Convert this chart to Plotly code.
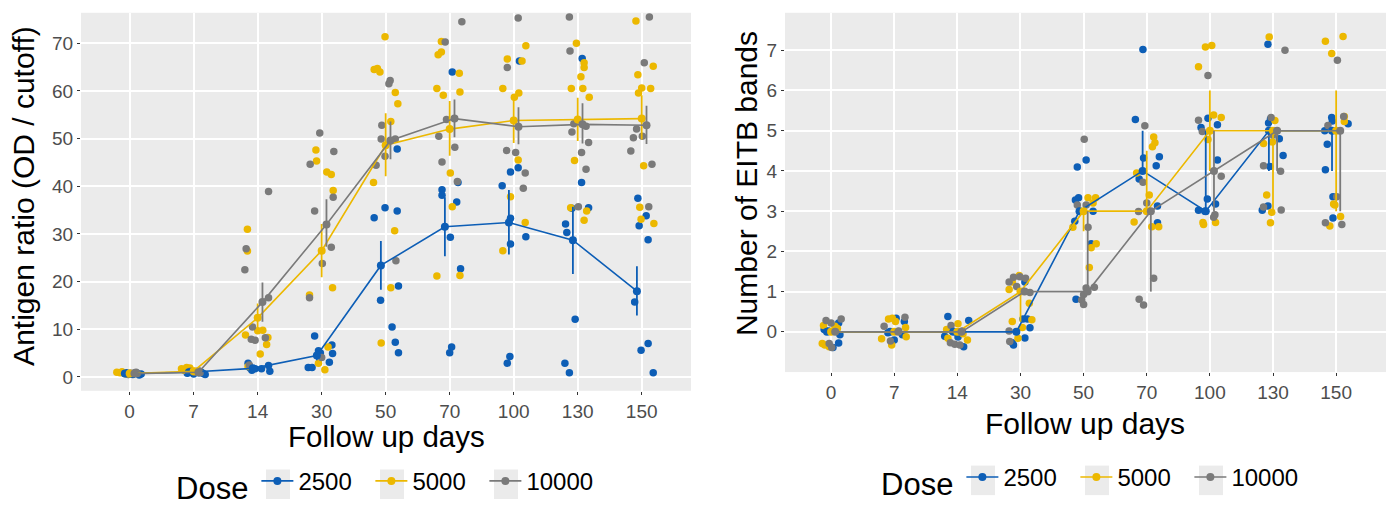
import plotly.graph_objects as go

# ---------------- data ----------------
days = ["0", "7", "14", "30", "50", "70", "100", "130", "150"]
doses = ["2500", "5000", "10000"]

# Left panel: antigen ratio, mean and SE bounds per day
ag_mean_2500 = [0.7, 1.0, 1.8, 4.5, 23.4, 31.5, 32.4, 28.7, 18.0]
ag_lo_2500 = [0.6, 0.9, 1.6, 3.5, 18.3, 25.3, 25.7, 21.6, 12.9]
ag_hi_2500 = [0.8, 1.1, 2.0, 5.5, 28.5, 37.7, 39.2, 35.7, 23.2]
ag_mean_5000 = [0.7, 1.2, 12.4, 26.5, 48.6, 52.0, 53.8, 54.0, 54.2]
ag_lo_5000 = [0.6, 1.0, 9.6, 20.9, 42.1, 46.4, 49.1, 49.5, 49.8]
ag_hi_5000 = [0.8, 1.4, 15.4, 32.1, 55.3, 57.9, 59.0, 58.6, 59.1]
ag_mean_10000 = [0.7, 1.0, 15.7, 32.0, 49.6, 54.2, 52.5, 53.0, 52.8]
ag_lo_10000 = [0.6, 0.9, 11.6, 27.3, 45.7, 50.3, 48.8, 49.0, 48.9]
ag_hi_10000 = [0.8, 1.1, 19.8, 37.3, 53.6, 58.2, 56.6, 57.4, 56.9]

ag_pts_2500 = [
    [0.5, 0.8, 0.4, 0.9, 0.6, 0.7, 0.5],
    [0.8, 0.6, 0.9, 0.7, 0.5, 1.0],
    [2.9, 1.9, 1.7, 1.7, 2.4, 1.2, 1.4],
    [8.6, 5.5, 6.7, 4.9, 3.1, 2.0, 2.0, 5.0],
    [47.8, 35.5, 34.8, 33.4, 19.1, 16.1, 10.5, 7.3, 5.1],
    [64.0, 39.3, 38.1, 36.7, 40.8, 29.3, 22.7, 6.3, 5.1],
    [66.3, 43.0, 43.9, 40.1, 33.3, 29.4, 27.9, 4.3, 2.9],
    [66.8, 40.8, 35.4, 35.5, 32.1, 30.3, 12.1, 2.9, 0.9],
    [37.5, 33.8, 31.7, 28.8, 15.7, 7.0, 5.6, 0.9],
]
ag_jit_2500 = [
    [0.05, 0.12, 0.15, -0.05, 0.18, 0.08, -0.02],
    [-0.10, 0.00, 0.08, 0.15, 0.18, 0.12],
    [-0.15, -0.12, -0.04, 0.06, 0.17, 0.19, -0.09],
    [-0.11, -0.05, 0.16, 0.17, 0.12, -0.21, -0.15, -0.02],
    [0.18, -0.01, 0.18, -0.18, 0.20, -0.08, 0.10, 0.15, 0.20],
    [0.04, -0.12, -0.12, 0.11, 0.13, 0.01, 0.17, 0.03, 0.00],
    [0.09, -0.05, 0.07, -0.18, -0.05, 0.19, -0.05, -0.06, -0.10],
    [0.07, 0.06, -0.09, 0.17, -0.19, -0.17, -0.04, -0.20, -0.13],
    [-0.06, 0.07, -0.04, 0.10, -0.11, 0.10, -0.01, 0.18],
]
ag_pts_5000 = [
    [1.0, 0.9, 0.7, 1.1, 0.8, 0.6],
    [1.7, 2.0, 1.9, 1.4, 1.2],
    [31.0, 26.4, 9.7, 9.8, 8.8, 8.3, 6.8, 4.8, 2.2],
    [47.6, 45.3, 43.0, 42.5, 39.1, 17.2, 18.7, 6.3, 2.9, 1.5],
    [71.4, 64.5, 64.7, 64.0, 59.7, 57.3, 53.6, 40.8, 30.7, 18.7, 7.1],
    [70.4, 67.6, 68.2, 63.7, 60.5, 59.1, 59.8, 42.8, 35.7, 21.2, 21.3],
    [69.5, 66.7, 66.3, 60.5, 58.7, 59.6, 45.5, 37.8, 32.4, 26.5],
    [70.0, 65.9, 64.9, 63.0, 60.5, 60.5, 58.7, 45.4, 35.5, 34.8, 32.9],
    [74.7, 65.2, 63.4, 60.6, 59.6, 60.5, 44.3, 35.6, 33.1, 32.2],
]
ag_jit_5000 = [
    [-0.20, -0.15, -0.08, -0.12, 0.00, -0.03],
    [-0.19, -0.11, -0.06, -0.15, 0.02],
    [-0.16, -0.16, 0.00, 0.08, -0.19, 0.16, 0.14, 0.04, -0.15],
    [-0.09, -0.08, 0.08, 0.15, 0.18, -0.19, 0.17, 0.10, -0.05, 0.05],
    [-0.01, -0.18, -0.13, -0.09, 0.15, 0.19, 0.08, -0.19, 0.14, 0.08, -0.07],
    [-0.13, -0.18, -0.13, 0.15, -0.20, -0.10, 0.16, 0.01, 0.04, -0.20, 0.16],
    [0.19, -0.10, 0.13, -0.17, 0.01, 0.08, 0.07, -0.05, 0.18, -0.17],
    [-0.02, 0.10, 0.10, 0.05, -0.10, 0.08, 0.18, -0.05, -0.11, 0.14, 0.10],
    [-0.09, 0.18, -0.06, 0.00, -0.05, 0.14, 0.03, -0.03, -0.01, 0.19],
]
ag_pts_10000 = [
    [0.8, 0.9, 0.6, 1.0, 0.7],
    [1.2, 1.0, 1.3, 0.9, 1.1],
    [38.9, 26.9, 22.5, 16.6, 10.5, 7.9, 7.7, 8.2, 2.5],
    [51.2, 44.6, 47.3, 37.7, 34.8, 27.2, 23.8, 16.6, 4.1],
    [62.2, 61.5, 52.8, 49.9, 46.3, 44.4, 49.9, 24.4],
    [74.5, 70.3, 50.5, 48.2, 45.1, 41.0, 54.0],
    [75.3, 64.9, 47.5, 47.1, 42.8, 39.6],
    [75.5, 68.4, 53.1, 51.4, 52.6, 49.2, 47.1, 43.6, 35.7],
    [75.5, 65.9, 52.0, 50.2, 50.5, 47.4, 44.6, 35.7],
]
ag_jit_10000 = [
    [0.02, 0.08, -0.05, 0.10, 0.12],
    [-0.05, 0.04, 0.08, 0.10, 0.00],
    [0.17, -0.18, -0.20, 0.17, -0.08, -0.10, -0.04, 0.12, -0.13],
    [-0.03, -0.18, 0.19, 0.18, -0.11, 0.15, 0.01, -0.19, 0.00],
    [0.07, 0.05, -0.06, -0.07, -0.01, -0.15, 0.15, 0.16],
    [0.19, -0.07, -0.17, 0.08, -0.12, 0.12, -0.05],
    [0.07, -0.10, -0.11, 0.03, 0.18, 0.15],
    [-0.13, -0.12, -0.06, -0.09, 0.13, 0.17, 0.06, 0.13, 0.01],
    [0.12, 0.04, -0.08, -0.13, 0.01, -0.17, 0.16, 0.11],
]

# Right panel: EITB bands, median and interquartile bounds
eb_med_2500 = [0, 0, 0, 0, 3, 4, 3, 5, 5]
eb_lo_2500 = [0, 0, 0, 0, 3, 4, 3, 4, 4]
eb_hi_2500 = [0, 0, 0, 0, 3, 5, 5, 5, 5]
eb_med_5000 = [0, 0, 0, 1, 3, 3, 5, 5, 5]
eb_lo_5000 = [0, 0, 0, 0.25, 2.5, 3, 4, 3, 3]
eb_hi_5000 = [0, 0, 0, 1, 3, 4.5, 6, 5, 6]
eb_med_10000 = [0, 0, 0, 1, 1, 3, 4, 5, 5]
eb_lo_10000 = [0, 0, 0, 1, 1, 1, 3, 4, 3]
eb_hi_10000 = [0, 0, 0, 1, 3, 3, 5, 5, 5]

eb_pts_2500 = [
    [0.06, 0.22, -0.07, -0.28, -0.39, 0.02],
    [0.34, 0.26, -0.02, -0.07, -0.20],
    [0.38, 0.28, 0.02, -0.13, -0.11, -0.37],
    [1.24, 0.32, 0.32, 0.10, -0.15, -0.27, -0.33],
    [4.10, 4.27, 3.28, 3.33, 3.00, 2.19, 0.81, 2.75],
    [7.02, 5.28, 4.32, 4.35, 4.13, 3.80, 3.13, 2.71],
    [5.31, 5.08, 5.15, 4.27, 3.30, 3.18, 3.02, 3.00],
    [7.15, 5.19, 5.29, 4.80, 4.38, 4.11, 3.13, 3.02],
    [5.33, 5.24, 5.17, 5.00, 4.66, 4.03, 3.36, 2.83],
]
eb_jit_2500 = [
    [-0.11, 0.12, 0.14, 0.12, 0.03, -0.04],
    [0.03, 0.16, -0.10, 0.13, 0.00],
    [-0.15, 0.18, -0.08, 0.01, -0.20, 0.10],
    [0.07, 0.04, 0.11, 0.15, 0.07, -0.13, -0.11],
    [-0.10, 0.04, -0.13, -0.08, 0.15, 0.12, -0.12, -0.14],
    [-0.06, -0.18, -0.05, 0.20, 0.15, -0.12, 0.17, 0.17],
    [-0.03, -0.14, 0.12, 0.12, -0.04, 0.09, -0.18, -0.08],
    [-0.08, -0.07, -0.04, 0.10, 0.16, -0.05, -0.08, -0.17],
    [-0.07, -0.06, 0.19, -0.18, -0.14, -0.17, -0.05, -0.05],
]
eb_pts_5000 = [
    [0.16, 0.14, -0.29, -0.33, -0.37, 0.08],
    [-0.17, 0.32, 0.34, 0.26, 0.11, -0.12, -0.33],
    [0.20, 0.06, -0.16, -0.20, -0.05],
    [1.24, 1.40, 1.05, 0.71, 0.26, 0.11, 0.30, -0.16],
    [3.33, 3.33, 2.60, 2.09, 2.19, 1.60, 3.00, 3.20],
    [4.84, 4.70, 4.60, 3.40, 3.95, 2.73, 2.61, 2.61],
    [7.08, 7.12, 6.59, 5.39, 5.33, 4.78, 2.72, 2.67, 2.72],
    [7.33, 5.25, 4.68, 4.72, 3.40, 2.97, 2.71],
    [7.22, 7.34, 6.92, 5.23, 5.35, 3.18, 3.15, 2.87, 2.63],
]
eb_jit_5000 = [
    [-0.12, 0.06, -0.14, -0.10, -0.03, 0.10],
    [-0.20, -0.09, -0.03, 0.02, 0.18, 0.19, -0.04],
    [0.01, -0.17, -0.15, 0.16, 0.09],
    [-0.13, -0.02, -0.18, 0.14, -0.13, 0.03, 0.18, -0.04],
    [0.07, 0.19, -0.17, 0.12, 0.20, 0.09, -0.06, 0.15],
    [0.11, 0.13, 0.09, 0.04, -0.16, -0.20, 0.08, 0.19],
    [-0.07, 0.03, -0.18, 0.06, 0.18, -0.03, -0.11, -0.10, 0.09],
    [-0.06, 0.03, -0.15, -0.01, -0.10, -0.02, -0.04],
    [-0.17, 0.11, -0.07, 0.13, 0.13, -0.04, -0.02, 0.07, -0.10],
]
eb_pts_10000 = [
    [0.28, 0.32, 0.22, -0.29, -0.39],
    [0.14, 0.36, -0.23, 0.02],
    [0.16, -0.27, -0.31, -0.33, 0.02],
    [1.24, 1.36, 1.37, 1.33, 1.13, 0.98, 0.02, -0.24],
    [4.79, 3.15, 3.15, 2.60, 1.09, 1.11, 0.93, 0.79, 0.68],
    [5.12, 3.72, 3.20, 2.99, 1.33, 0.81, 0.67],
    [6.37, 5.26, 4.98, 3.87, 2.91, 2.85],
    [7.00, 5.33, 4.13, 3.99, 3.10, 3.03, 4.89],
    [6.75, 5.13, 5.35, 3.36, 2.71, 2.67],
]
eb_jit_10000 = [
    [-0.08, 0.16, 0.00, -0.03, 0.01],
    [-0.16, 0.17, -0.06, 0.07],
    [-0.10, -0.11, -0.04, 0.04, 0.08],
    [-0.18, -0.11, -0.01, 0.08, -0.06, 0.15, -0.18, -0.17],
    [0.01, 0.04, -0.10, 0.07, 0.04, 0.17, 0.00, -0.03, 0.00],
    [-0.03, -0.06, 0.00, -0.13, 0.11, -0.12, -0.05],
    [-0.03, -0.18, -0.12, 0.18, 0.08, 0.06],
    [0.19, -0.03, -0.15, 0.12, -0.15, 0.13, 0.00],
    [0.02, -0.13, 0.12, 0.01, -0.17, 0.09],
]

# ---------------- styling ----------------
colors = {"2500": "#0D5EB6", "5000": "#ECB800", "10000": "#7A7A7A"}
dodge_left = {"2500": -0.075, "5000": 0.0, "10000": 0.075}
dodge_right = {"2500": -0.065, "5000": 0.0, "10000": 0.065}
FONT = "Liberation Sans, Arial, sans-serif"
W, H = 1390, 510

left = {
    "2500": (ag_mean_2500, ag_lo_2500, ag_hi_2500, ag_pts_2500, ag_jit_2500),
    "5000": (ag_mean_5000, ag_lo_5000, ag_hi_5000, ag_pts_5000, ag_jit_5000),
    "10000": (ag_mean_10000, ag_lo_10000, ag_hi_10000, ag_pts_10000, ag_jit_10000),
}
right = {
    "2500": (eb_med_2500, eb_lo_2500, eb_hi_2500, eb_pts_2500, eb_jit_2500),
    "5000": (eb_med_5000, eb_lo_5000, eb_hi_5000, eb_pts_5000, eb_jit_5000),
    "10000": (eb_med_10000, eb_lo_10000, eb_hi_10000, eb_pts_10000, eb_jit_10000),
}

fig = go.Figure()


def add_panel(data, dodge, xa, ya, legend_name):
    # jittered points first
    for d in doses:
        _, _, _, pts, jit = data[d]
        xs, ys = [], []
        for i, (vals, js) in enumerate(zip(pts, jit)):
            for v, j in zip(vals, js):
                xs.append(i + j)
                ys.append(v)
        fig.add_trace(go.Scatter(
            x=xs, y=ys, mode="markers", xaxis=xa, yaxis=ya,
            marker=dict(color=colors[d], size=7.5, line=dict(width=0)),
            showlegend=False, hoverinfo="skip"))
    for d in doses:
        mean, lo, hi, _, _ = data[d]
        xs = [i + dodge[d] for i in range(len(days))]
        fig.add_trace(go.Scatter(
            x=xs, y=mean, mode="lines+markers", name=d, xaxis=xa, yaxis=ya,
            legend=legend_name,
            line=dict(color=colors[d], width=1.6),
            marker=dict(color=colors[d], size=8),
            error_y=dict(type="data", symmetric=False,
                         array=[h - m for h, m in zip(hi, mean)],
                         arrayminus=[m - l for m, l in zip(mean, lo)],
                         color=colors[d], thickness=1.8, width=0)))


add_panel(left, dodge_left, "x", "y", "legend")
add_panel(right, dodge_right, "x2", "y2", "legend2")

axis_common = dict(
    showgrid=True, gridcolor="white", gridwidth=1.7, zeroline=False,
    showline=False, ticks="outside", ticklen=3, tickwidth=1.2, tickcolor="#333333",
    tickfont=dict(family=FONT, size=19, color="#4D4D4D"),
)

ITEMW, ENTRYW = 32, 67
legend_common = dict(
    orientation="h", xanchor="left", yanchor="middle",
    title=dict(text="Dose", font=dict(size=31, family=FONT, color="black"), side="left"),
    font=dict(size=24, family=FONT, color="black"), bgcolor="rgba(0,0,0,0)",
    itemwidth=ITEMW, entrywidth=ENTRYW, entrywidthmode="pixels",
)

# legend placement (px) and grey key backgrounds behind the legend symbols
leg_left_x, leg_left_y = 174, 492
leg_right_x, leg_right_y = 879, 488
first_key_offset = 83 + (ITEMW + 10) / 2   # legend left edge -> first symbol centre
key_pitch = ITEMW + 10 + ENTRYW + 5

shapes = []
for lx, ly in [(leg_left_x, leg_left_y), (leg_right_x, leg_right_y)]:
    for k in range(len(doses)):
        cx = lx + first_key_offset + k * key_pitch
        shapes.append(dict(type="rect", xref="paper", yref="paper",
                           x0=(cx - 12) / W, x1=(cx + 12) / W,
                           y0=1 - (ly + 15) / H, y1=1 - (ly - 15) / H,
                           fillcolor="#EBEBEB", line=dict(width=0), layer="below"))

fig.update_layout(
    width=W, height=H,
    margin=dict(l=0, r=0, t=0, b=0),
    paper_bgcolor="white", plot_bgcolor="#EBEBEB",
    font=dict(family=FONT, color="black"),
    xaxis=dict(domain=[81 / W, 691 / W], range=[-0.76, 8.77], tickvals=list(range(9)),
               ticktext=days, anchor="y", **axis_common),
    yaxis=dict(domain=[1 - 397 / H, 1 - 13 / H], range=[-2.9, 76.4],
               tickvals=[0, 10, 20, 30, 40, 50, 60, 70], anchor="x", **axis_common),
    xaxis2=dict(domain=[785 / W, 1386 / W], range=[-0.73, 8.79], tickvals=list(range(9)),
                ticktext=days, anchor="y2", **axis_common),
    yaxis2=dict(domain=[1 - 378 / H, 1 - 13 / H], range=[-1.0, 7.93],
                tickvals=[0, 1, 2, 3, 4, 5, 6, 7], anchor="x2", **axis_common),
    legend=dict(x=leg_left_x / W, y=1 - leg_left_y / H, **legend_common),
    legend2=dict(x=leg_right_x / W, y=1 - leg_right_y / H, **legend_common),
    showlegend=True,
    shapes=shapes,
)

annotations = [
    dict(text="Follow up days", x=386 / W, y=1 - 443 / H, xref="paper", yref="paper",
         showarrow=False, font=dict(size=29.5, family=FONT, color="black"),
         xanchor="center", yanchor="middle"),
    dict(text="Follow up days", x=1085 / W, y=1 - 430 / H, xref="paper", yref="paper",
         showarrow=False, font=dict(size=30, family=FONT, color="black"),
         xanchor="center", yanchor="middle"),
    dict(text="Antigen ratio (OD / cutoff)", x=24 / W, y=1 - 199 / H, xref="paper", yref="paper",
         showarrow=False, textangle=-90, font=dict(size=30, family=FONT, color="black"),
         xanchor="center", yanchor="middle"),
    dict(text="Number of EITB bands", x=746 / W, y=1 - 186 / H, xref="paper", yref="paper",
         showarrow=False, textangle=-90, font=dict(size=30, family=FONT, color="black"),
         xanchor="center", yanchor="middle"),
]
fig.update_layout(annotations=annotations)

fig.write_html("out.html")
